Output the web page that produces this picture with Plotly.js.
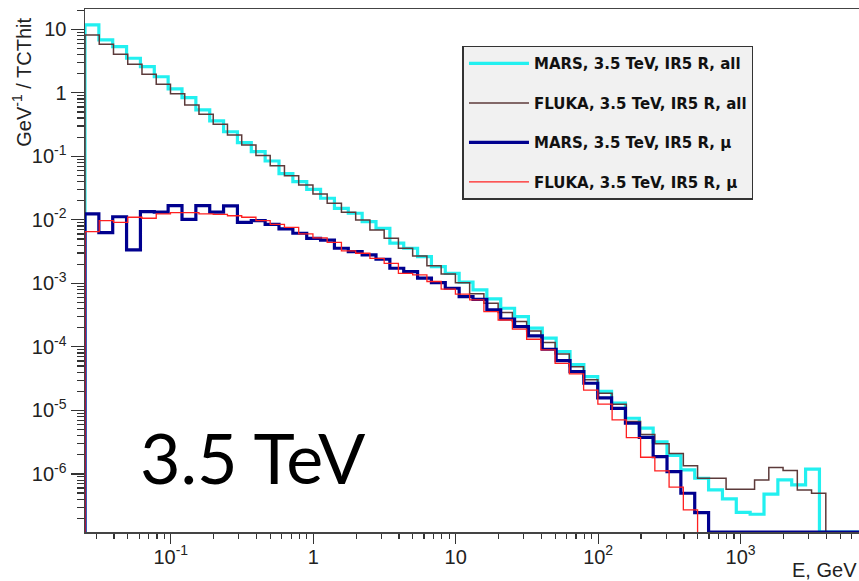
<!DOCTYPE html>
<html>
<head>
<meta charset="utf-8">
<script src="https://cdn.plot.ly/plotly-3.0.1.min.js"></script>
<style>
  html, body { margin: 0; padding: 0; background: #ffffff; }
  #chart { width: 859px; height: 581px; }
</style>
</head>
<body>
<div id="chart"></div>
<script>
// ---------------- Data ----------------
// Binning: MARS histograms: 56 log-equal bins from 0.025 to 7000 GeV
const marsBinning = { min: 0.025, max: 7000, nbins: 56 };
// FLUKA histograms: 52 log-equal bins (10 per decade) from 0.025 GeV
const flukaBinning = { min: 0.025, max: 0.025 * Math.pow(10, 5.2), nbins: 52 };

// GeV^-1 / TCThit per bin
const marsAll = [
  11.7, 6.79, 5.32, 3.50, 2.58, 1.79, 1.15, 0.839, 0.537, 0.361,
  0.244, 0.164, 0.119, 0.0845, 0.0535, 0.0399, 0.0303, 0.0219, 0.0152, 0.0127,
  0.00938, 0.00736, 0.00429, 0.00357, 0.00264, 0.00183, 0.00144, 0.00105, 7.89e-4, 5.69e-4,
  4.06e-4, 2.99e-4, 1.97e-4, 1.37e-4, 8.43e-5, 5.25e-5, 3.40e-5, 2.00e-5, 1.30e-5, 7.53e-6,
  5.25e-6, 3.20e-6, 1.96e-6, 1.16e-6, 8.55e-7, 5.60e-7, 4.05e-7, 2.49e-7, 2.32e-7, 4.80e-7,
  8.05e-7, 6.71e-7, 1.19e-6, 0, 0, 0
];
const flukaAll = [
  8.13, 5.81, 4.05, 2.81, 1.96, 1.36, 0.970, 0.644, 0.459, 0.320,
  0.217, 0.151, 0.103, 0.0713, 0.0494, 0.0354, 0.0256, 0.0182, 0.0132, 0.00995,
  0.00693, 0.00513, 0.00357, 0.00270, 0.00190, 0.00141, 0.00102, 6.87e-4, 4.86e-4, 3.47e-4,
  2.50e-4, 1.78e-4, 1.17e-4, 7.74e-5, 4.89e-5, 3.03e-5, 1.86e-5, 1.25e-5, 6.67e-6, 4.17e-6,
  2.99e-6, 2.09e-6, 1.34e-6, 8.55e-7, 8.55e-7, 5.74e-7, 5.74e-7, 8.05e-7, 1.26e-6, 1.13e-6,
  5.60e-7, 4.97e-7
];
const marsMu = [
  0.0124, 0.00630, 0.0112, 0.00336, 0.0135, 0.0132, 0.0167, 0.0102, 0.0167, 0.0132,
  0.0166, 0.00916, 0.00973, 0.00851, 0.00719, 0.00615, 0.00511, 0.00479, 0.00357, 0.00316,
  0.00281, 0.00240, 0.00173, 0.00153, 0.00121, 0.00103, 8.38e-4, 6.18e-4, 5.62e-4, 3.82e-4,
  2.75e-4, 2.08e-4, 1.49e-4, 9.18e-5, 6.08e-5, 4.08e-5, 2.68e-5, 1.58e-5, 1.08e-5, 6.28e-6,
  3.76e-6, 1.87e-6, 1.09e-6, 4.97e-7, 2.46e-7, 0, 0, 0, 0, 0,
  0, 0, 0, 0, 0, 0
];
const flukaMu = [
  0.00653, 0.00973, 0.00916, 0.0110, 0.0106, 0.0124, 0.0130, 0.0130, 0.0124, 0.0122,
  0.0116, 0.0110, 0.00973, 0.00851, 0.00759, 0.00603, 0.00519, 0.00442, 0.00324, 0.00298,
  0.00248, 0.00207, 0.00144, 0.00136, 0.00107, 8.11e-4, 6.76e-4, 5.50e-4, 3.59e-4, 2.65e-4,
  1.90e-4, 1.32e-4, 8.95e-5, 5.52e-5, 3.75e-5, 2.09e-5, 1.26e-5, 7.08e-6, 3.72e-6, 1.83e-6,
  1.12e-6, 6.18e-7, 2.72e-7, 0, 0, 0, 0, 0, 0, 0,
  0, 0
];

const seriesNames = [
  'MARS, 3.5 TeV, IR5 R, all',
  'FLUKA, 3.5 TeV, IR5 R, all',
  'MARS, 3.5 TeV, IR5 R, μ',
  'FLUKA, 3.5 TeV, IR5 R, μ'
];
const xTickVals = [0.1, 1, 10, 100, 1000];
const xTickText = ['10<sup>-1</sup>', '1', '10', '10<sup>2</sup>', '10<sup>3</sup>'];
const yTickVals = [1e-6, 1e-5, 1e-4, 1e-3, 1e-2, 1e-1, 1, 10];
const yTickText = ['10<sup>-6</sup>', '10<sup>-5</sup>', '10<sup>-4</sup>', '10<sup>-3</sup>',
                   '10<sup>-2</sup>', '10<sup>-1</sup>', '1', '10'];
const xTitle = 'E, GeV';
const yTitle = 'GeV<sup>-1</sup> / TCThit';
const energyLabel = '3.5 TeV';

// ---------------- Layout settings ----------------
const xLogRange = [Math.log10(0.025), 3.831];
const yLogRange = [-6.914, 1.3195];
// zero bins are drawn on the bottom of the frame (ROOT style)
const zeroLevel = Math.pow(10, yLogRange[0]);

function logEdges(b) {
  const lo = Math.log10(b.min), hi = Math.log10(b.max);
  const e = [];
  for (let i = 0; i <= b.nbins; i++) e.push(Math.pow(10, lo + (hi - lo) * i / b.nbins));
  return e;
}
// drawZeroTail: whether empty trailing bins are drawn along the frame bottom
function stepTrace(binning, values, name, color, width, drawZeroTail) {
  const edges = logEdges(binning);
  let n = values.length;
  if (!drawZeroTail) { while (n > 0 && !(values[n - 1] > 0)) n--; }
  const v = values.slice(0, n).map(d => (d > 0 ? d : zeroLevel));
  const x = [edges[0]], y = [zeroLevel];
  for (let i = 0; i < v.length; i++) { x.push(edges[i]); y.push(v[i]); }
  x.push(edges[n]); y.push(v[n - 1]);
  x.push(edges[n]); y.push(zeroLevel);
  return {
    type: 'scatter', mode: 'lines', x: x, y: y, name: name,
    legendgroup: name,
    line: { shape: 'hv', color: color, width: width },
    hoverinfo: 'skip'
  };
}

const traces = [
  stepTrace(marsBinning, marsAll, seriesNames[0], '#22f0f0', 3.2, true),
  stepTrace(flukaBinning, flukaAll, seriesNames[1], '#5c3a3a', 1.5, false),
  stepTrace(marsBinning, marsMu, seriesNames[2], '#00008f', 3.2, true),
  stepTrace(flukaBinning, flukaMu, seriesNames[3], '#ff2020', 1.3, false)
];

const axisFont = { family: 'Liberation Sans, Arial, sans-serif', size: 20, color: '#222' };

const layout = {
  width: 859, height: 581,
  margin: { l: 85, r: 0, t: 9, b: 49, pad: 0 },
  paper_bgcolor: '#ffffff', plot_bgcolor: '#ffffff',
  showlegend: true,
  legend: {
    x: 0.4877, y: 0.9298, xanchor: 'left', yanchor: 'top',
    bgcolor: '#f1f1f1', bordercolor: '#333', borderwidth: 1.5,
    font: { family: 'DejaVu Sans, sans-serif', size: 15, color: '#111', weight: 'bold' },
    traceorder: 'grouped', tracegroupgap: 17,
    itemwidth: 60
  },
  xaxis: {
    type: 'log', range: xLogRange,
    tickmode: 'array', tickvals: xTickVals, ticktext: xTickText,
    showline: true, linecolor: '#444', linewidth: 1.5, mirror: true,
    ticks: 'outside', ticklen: 10, tickwidth: 1.2, tickcolor: '#333',
    ticklabelstandoff: -4,
    minor: { ticks: 'outside', ticklen: 5, tickwidth: 1.2, tickcolor: '#333', dtick: 'D1', showgrid: false },
    showgrid: false, zeroline: false,
    tickfont: axisFont
  },
  yaxis: {
    type: 'log', range: yLogRange,
    tickmode: 'array', tickvals: yTickVals, ticktext: yTickText,
    showline: true, linecolor: '#444', linewidth: 1.5, mirror: true,
    ticks: 'outside', ticklen: 13, tickwidth: 1.2, tickcolor: '#333',
    minor: { ticks: 'outside', ticklen: 7, tickwidth: 1.2, tickcolor: '#333', dtick: 'D1', showgrid: false },
    showgrid: false, zeroline: false,
    tickfont: axisFont
  },
  annotations: [
    { text: yTitle, xref: 'paper', yref: 'paper', x: -0.0814, y: 0.861,
      xanchor: 'center', yanchor: 'middle', textangle: -90, showarrow: false,
      font: { family: 'Liberation Sans, Arial, sans-serif', size: 20, color: '#222' } },
    { text: xTitle, xref: 'paper', yref: 'paper', x: 1.0, y: -0.0736,
      xanchor: 'right', yanchor: 'middle', showarrow: false,
      font: { family: 'Liberation Sans, Arial, sans-serif', size: 20, color: '#222' } },
    { text: energyLabel, xref: 'paper', yref: 'paper', x: 0.217, y: 0.1434,
      xanchor: 'center', yanchor: 'middle', showarrow: false,
      font: { family: 'Comic Sans MS, Lato, sans-serif', size: 70, color: '#000' } }
  ]
};

Plotly.newPlot('chart', traces, layout, { staticPlot: true, displayModeBar: false });
</script>
</body>
</html>
